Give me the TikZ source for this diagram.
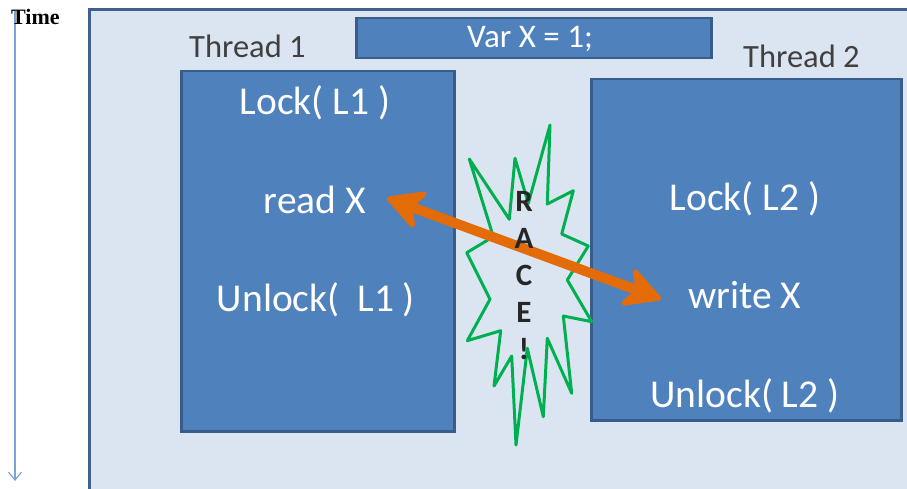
\documentclass[tikz,border=0pt]{standalone}
\usepackage{fontspec}
\setmainfont{Carlito}
\newfontfamily\timefont{Liberation Serif}
\usetikzlibrary{arrows.meta}
\definecolor{panelfill}{HTML}{DBE5F1}
\definecolor{panelline}{HTML}{3F5F8C}
\definecolor{boxfill}{HTML}{4F81BD}
\definecolor{boxline}{HTML}{385D8A}
\definecolor{racegreen}{HTML}{00B050}
\definecolor{raceorange}{HTML}{E36C09}
\definecolor{timeblue}{HTML}{7BA3D6}
\definecolor{labelgray}{HTML}{404040}
\definecolor{raceink}{HTML}{262626}
\begin{document}
\begin{tikzpicture}[x=1pt,y=-1pt,
  panel/.style={draw=panelline,fill=panelfill,line width=3pt,inner sep=0pt,anchor=north west},
  threadbox/.style={draw=boxline,fill=boxfill,line width=2.5pt,inner sep=0pt,anchor=north west},
  code/.style={text=white,font=\fontsize{39.5}{41}\selectfont,anchor=base,inner sep=0pt},
  varstyle/.style={text=white,font=\fontsize{33}{35}\selectfont,anchor=base,inner sep=0pt},
  title/.style={text=labelgray,font=\fontsize{32.5}{34}\selectfont,anchor=base west,inner sep=0pt},
  timelabel/.style={font=\timefont\bfseries\fontsize{22}{24}\selectfont,anchor=base west,inner sep=0pt},
  timearrow/.style={draw=timeblue,line width=1.2pt,-{Straight Barb[length=8pt,width=13pt]}},
  burst/.style={draw=racegreen,line width=3pt,line join=round},
  racearrow/.style={draw=raceorange,line width=10pt,
    {Stealth[length=42pt,width=45pt,inset=12pt,round,line width=5pt]}-{Stealth[length=42pt,width=45pt,inset=12pt,round,line width=5pt]}},
  raceword/.style={text=raceink,font=\bfseries\fontsize{31}{37}\selectfont,align=center,inner sep=0pt}
]
\useasboundingbox (0,0) rectangle (907,489);
\clip (0,0) rectangle (907,489);
% time axis
\coordinate (ttop) at (15,10);
\coordinate (tbot) at (15,481);
\draw[timearrow] (ttop) -- (tbot);
\node[timelabel] (time) at (11,25) {Time};
% outer panel
\node[panel,minimum width=860pt,minimum height=520pt] (panel) at (88,8) {};
% shared variable
\node[threadbox,minimum width=355pt,minimum height=40pt] (varbox) at (355,17) {};
\node[varstyle] (var) at (530,48) {Var X = 1;};
% thread 1
\node[title] (t1title) at (189,58) {Thread 1};
\node[threadbox,minimum width=273pt,minimum height=360pt] (t1) at (180,70) {};
\node[code] (lock1) at (315,115) {Lock( L1 )};
\node[code] (readx) at (315,213) {read X};
\node[code] (unlock1) at (316,311) {Unlock(\ \ L1 )};
% thread 2
\node[title] (t2title) at (743,68) {Thread 2};
\node[threadbox,minimum width=310pt,minimum height=341pt] (t2) at (590,78) {};
\node[code] (lock2) at (745,211) {Lock( L2 )};
\node[code] (writex) at (745,308) {write X};
\node[code] (unlock2) at (745,407) {Unlock( L2 )};
% race burst
\draw[burst] (550,125) -- (547.3,204) -- (573.3,190.7) -- (561.7,234) -- (588.3,246)
  -- (567.3,280) -- (591.7,321.7) -- (563.3,316) -- (571.7,393.3) -- (547.3,338.3)
  -- (543.3,416.7) -- (527.3,348.3) -- (516,445) -- (511.7,356) -- (494,386)
  -- (500.7,330.7) -- (467.3,340.7) -- (490,299.3) -- (466.7,252.7) -- (493.3,236.7)
  -- (469.3,159) -- (509.3,219.3) -- (515,158.3) -- (528.3,203.3) -- cycle;
% race arrow
\coordinate (ra) at (387,198);
\coordinate (rb) at (661,299);
\draw[racearrow] (ra) -- (rb);
\node[raceword] (race) at (524,276) {R\\A\\C\\E\\!};
\end{tikzpicture}
\end{document}
